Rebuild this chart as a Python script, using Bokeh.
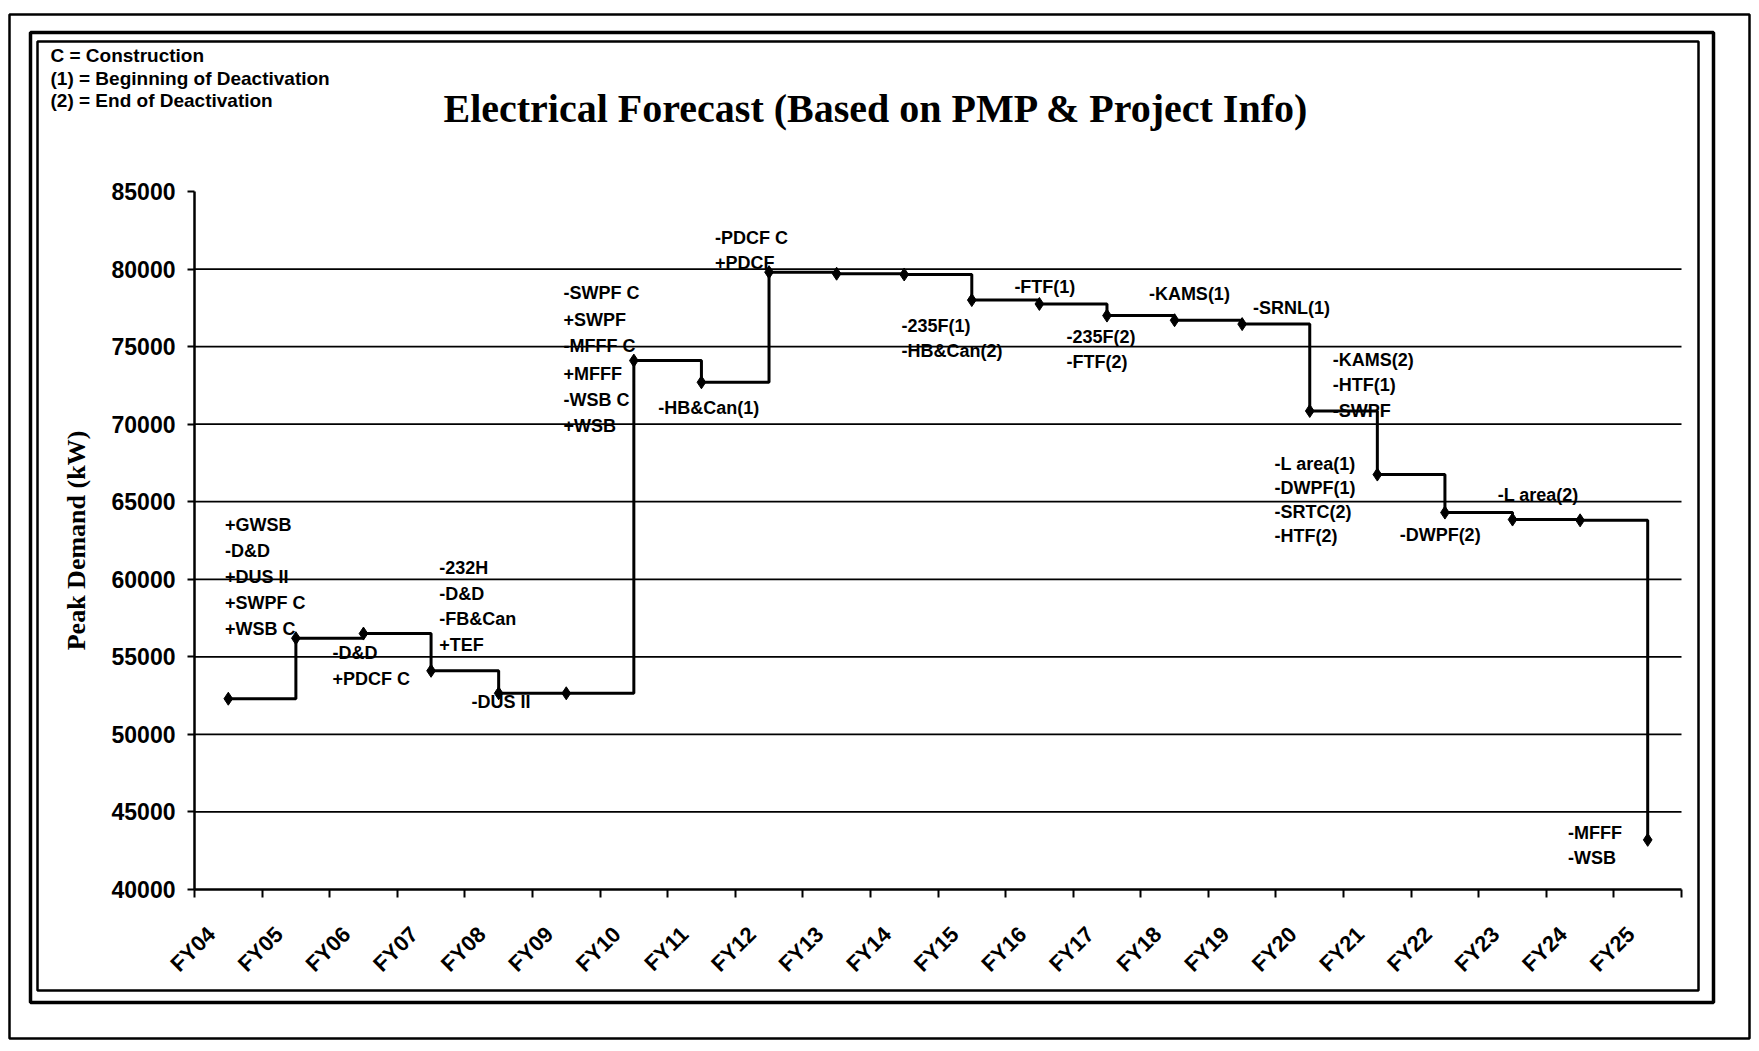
import math
from bokeh.plotting import figure
from bokeh.models import Range1d, FixedTicker, Label, BoxAnnotation, ColumnDataSource
from bokeh.core.properties import value
from bokeh.embed import file_html
from bokeh.resources import INLINE

# ---------------- data ----------------
years = ["FY04", "FY05", "FY06", "FY07", "FY08", "FY09", "FY10", "FY11", "FY12", "FY13", "FY14",
         "FY15", "FY16", "FY17", "FY18", "FY19", "FY20", "FY21", "FY22", "FY23", "FY24", "FY25"]
peak_demand_kw = [52300, 56200, 56500, 54100, 52650, 52650, 74100, 72700, 79800, 79700, 79650,
                  78000, 77750, 77000, 76700, 76450, 70850, 66750, 64300, 63850, 63800, 43200]
y_ticks = [40000, 45000, 50000, 55000, 60000, 65000, 70000, 75000, 80000, 85000]
grid_values = [45000, 50000, 55000, 60000, 65000, 70000, 75000, 80000]

note_text = ["+GWSB", "-D&D", "+DUS II", "+SWPF C", "+WSB C",
             "-D&D", "+PDCF C",
             "-232H", "-D&D", "-FB&Can", "+TEF",
             "-DUS II",
             "-SWPF C", "+SWPF", "-MFFF C", "+MFFF", "-WSB C", "+WSB",
             "-HB&Can(1)",
             "-PDCF C", "+PDCF",
             "-235F(1)", "-HB&Can(2)",
             "-FTF(1)",
             "-235F(2)", "-FTF(2)",
             "-KAMS(1)",
             "-SRNL(1)",
             "-KAMS(2)", "-HTF(1)", "-SWPF",
             "-L area(1)", "-DWPF(1)", "-SRTC(2)", "-HTF(2)",
             "-DWPF(2)",
             "-L area(2)",
             "-MFFF", "-WSB"]
note_x = [0.45, 0.45, 0.45, 0.45, 0.45,
          2.04, 2.04,
          3.62, 3.62, 3.62, 3.62,
          4.10,
          5.46, 5.46, 5.46, 5.46, 5.46, 5.46,
          6.86,
          7.70, 7.70,
          10.46, 10.46,
          12.13,
          12.90, 12.90,
          14.12,
          15.66,
          16.84, 16.84, 16.84,
          15.98, 15.98, 15.98, 15.98,
          17.83,
          19.28,
          20.32, 20.32]
note_y = [63480, 61820, 60150, 58480, 56820,
          55240, 53570,
          60750, 59080, 57410, 55740,
          52100,
          78430, 76690, 75030, 73220, 71560, 69890,
          71040,
          81980, 80390,
          76320, 74710,
          78850,
          75600, 73980,
          78390,
          77470,
          74140, 72500, 70850,
          67450, 65900, 64350, 62800,
          62830,
          65450,
          43620, 42000]

legend_lines = ["C = Construction", "(1) = Beginning of Deactivation", "(2) = End of Deactivation"]
title_text = "Electrical Forecast (Based on PMP & Project Info)"

# ---------------- geometry (page pixels) ----------------
W, H = 1751, 1043
FL, FR, FT, FB = 194, 1681, 191, 889   # where the axes sit
N = len(years)
X0, X1 = 0, N
Y0, Y1 = 40000, 85000
sx = (FR - FL) / (X1 - X0)
sy = (FB - FT) / (Y1 - Y0)


def px_x(px):
    return X0 + (px - FL) / sx


def px_y(py):
    return Y1 - (py - FT) / sy


p = figure(width=W, height=H, output_backend="svg", toolbar_location=None,
           x_range=Range1d(px_x(0), px_x(W)), y_range=Range1d(px_y(H), px_y(0)),
           min_border=0)
p.title.visible = False
p.outline_line_color = None
p.background_fill_color = "white"
p.border_fill_color = "white"
p.xgrid.visible = False
p.ygrid.visible = False

# gridlines only across the data area
p.segment(x0=[X0] * len(grid_values), x1=[X1] * len(grid_values), y0=grid_values, y1=grid_values,
          line_color="black", line_width=1.7)

# x axis: boundary tick marks, labels placed under each category (slanted)
centers = [i + 0.5 for i in range(N)]
label_pos = [c - 0.25 for c in centers]
p.xaxis.fixed_location = Y0
p.xaxis.bounds = (X0, X1)
p.xaxis.ticker = FixedTicker(ticks=label_pos, minor_ticks=list(range(N + 1)))
p.xaxis.major_label_overrides = {c: y for c, y in zip(label_pos, years)}
p.xaxis.major_tick_out = 0
p.xaxis.major_tick_in = 0
p.xaxis.minor_tick_out = 8
p.xaxis.minor_tick_in = 0
p.xaxis.minor_tick_line_color = "black"
p.xaxis.minor_tick_line_width = 2
p.xaxis.axis_line_width = 2.5
p.xaxis.axis_line_color = "black"
p.xaxis.major_label_orientation = math.pi / 4
p.xaxis.major_label_standoff = 33
p.xaxis.major_label_text_font = "Liberation Sans"
p.xaxis.major_label_text_font_style = "bold"
p.xaxis.major_label_text_font_size = "22px"
p.xaxis.major_label_text_color = "black"

# y axis
p.yaxis.fixed_location = X0
p.yaxis.bounds = (Y0, Y1)
p.yaxis.ticker = FixedTicker(ticks=y_ticks)
p.yaxis.major_tick_out = 7
p.yaxis.major_tick_in = 0
p.yaxis.minor_tick_out = 0
p.yaxis.minor_tick_in = 0
p.yaxis.major_tick_line_width = 2
p.yaxis.axis_line_width = 2.5
p.yaxis.axis_line_color = "black"
p.yaxis.major_label_standoff = 12
p.yaxis.major_label_text_font = "Liberation Sans"
p.yaxis.major_label_text_font_style = "bold"
p.yaxis.major_label_text_font_size = "23px"
p.yaxis.major_label_text_color = "black"
p.yaxis.axis_label = "Peak Demand (kW)"
p.yaxis.axis_label_text_font = "Liberation Serif"
p.yaxis.axis_label_text_font_style = "bold"
p.yaxis.axis_label_text_font_size = "26px"
p.yaxis.axis_label_text_color = "black"
p.yaxis.axis_label_standoff = 18

# series
src = ColumnDataSource(dict(x=centers, y=peak_demand_kw))
p.step("x", "y", source=src, mode="after", line_color="black", line_width=3)
p.scatter("x", "y", source=src, marker="diamond", size=13, fill_color="black", line_color="black")

# annotations
nsrc = ColumnDataSource(dict(x=note_x, y=note_y, t=note_text))
p.text("x", "y", text="t", source=nsrc, text_font=value("Liberation Sans"), text_font_style="bold",
       text_font_size="18px", text_baseline="middle", text_align="left", text_color="black")

# title
p.add_layout(Label(x=px_x(876), y=px_y(108), text=title_text, text_align="center",
                   text_baseline="middle", text_font="Liberation Serif", text_font_style="bold",
                   text_font_size="40px", text_color="black"))

# legend text (top-left)
for t, py in zip(legend_lines, [55, 78, 100]):
    p.add_layout(Label(x=px_x(50), y=px_y(py), text=t, text_align="left", text_baseline="middle",
                       text_font="Liberation Sans", text_font_style="bold", text_font_size="19px",
                       text_color="black"))

# page borders
for (l, t, r, b, lw) in [(9, 14, 1749, 1038, 2.5), (30, 32, 1713, 1002, 3.5), (37, 41, 1698, 990, 2.5)]:
    p.add_layout(BoxAnnotation(left=px_x(l), right=px_x(r), top=px_y(t), bottom=px_y(b),
                               fill_color=None, fill_alpha=0, line_color="black", line_alpha=1,
                               line_width=lw))

open("out.html", "w").write(file_html(p, INLINE))
